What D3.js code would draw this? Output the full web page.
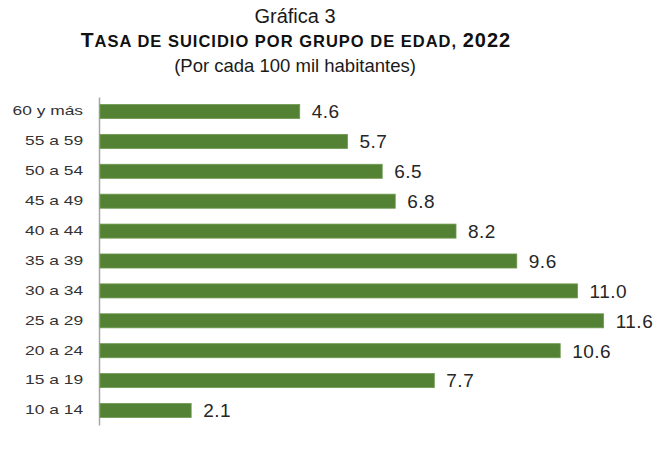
<!DOCTYPE html>
<html>
<head>
<meta charset="utf-8">
<script src="https://cdn.jsdelivr.net/npm/d3@7"></script>
<style>
  body { margin: 0; background: #fff; }
  text { font-family: "Liberation Sans", Arial, sans-serif; }
</style>
</head>
<body>
<svg id="chart" width="665" height="450"></svg>
<script>
// grupos de edad, de arriba hacia abajo
const grupos = ["60 y más", "55 a 59", "50 a 54", "45 a 49", "40 a 44", "35 a 39",
                "30 a 34", "25 a 29", "20 a 24", "15 a 19", "10 a 14"];
const tasas = [4.6, 5.7, 6.5, 6.8, 8.2, 9.6, 11.0, 11.6, 10.6, 7.7, 2.1];

const data = grupos.map((g, i) => ({ grupo: g, tasa: tasas[i] }));

const svg = d3.select("#chart");

// títulos
svg.append("text")
  .attr("x", 295).attr("y", 23)
  .attr("text-anchor", "middle")
  .attr("font-size", 20)
  .attr("fill", "#1a1a1a")
  .text("Gráfica 3");

const titulo = svg.append("text")
  .attr("x", 296).attr("y", 47)
  .attr("text-anchor", "middle")
  .attr("font-weight", "bold")
  .attr("letter-spacing", 1)
  .attr("fill", "#111");
titulo.append("tspan").attr("font-size", 21).text("T");
titulo.append("tspan").attr("font-size", 16.5).text("ASA DE SUICIDIO POR GRUPO DE EDAD, ");
titulo.append("tspan").attr("font-size", 20).text("2022");

svg.append("text")
  .attr("x", 295).attr("y", 72)
  .attr("text-anchor", "middle")
  .attr("font-size", 18.5)
  .attr("fill", "#1a1a1a")
  .text("(Por cada 100 mil habitantes)");

// escalas
const x = d3.scaleLinear().domain([0, 12]).range([100, 621]);
const y = d3.scaleBand()
  .domain(grupos)
  .range([97, 425])
  .paddingInner(0.53)
  .paddingOuter(0.25);

// eje vertical con etiquetas (texto ensanchado como en el original)
const estiro = 1.45;
const yAxis = svg.append("g")
  .attr("transform", "translate(99,0)")
  .call(d3.axisLeft(y).tickSize(0).tickPadding(11));
yAxis.select(".domain").attr("stroke", "#a6a6a6").attr("stroke-width", 1.5);
yAxis.selectAll("text")
  .attr("font-family", "Liberation Sans, Arial, sans-serif")
  .attr("font-size", 12)
  .attr("fill", "#333")
  .attr("transform", `scale(${estiro},1)`);

// barras
svg.selectAll(".bar")
  .data(data)
  .enter()
  .append("rect")
  .attr("class", "bar")
  .attr("x", x(0))
  .attr("y", d => y(d.grupo))
  .attr("width", d => x(d.tasa) - x(0))
  .attr("height", y.bandwidth())
  .style("fill", "#548235")
  .style("stroke", "#6f9a4f")
  .style("stroke-width", 0.8);

// valores
svg.selectAll(".valor")
  .data(data)
  .enter()
  .append("text")
  .attr("class", "valor")
  .attr("x", d => x(d.tasa) + 12)
  .attr("y", d => y(d.grupo) + y.bandwidth() / 2)
  .attr("dy", "0.36em")
  .attr("font-size", 19)
  .attr("letter-spacing", 0.5)
  .attr("fill", "#262626")
  .text(d => d.tasa.toFixed(1));
</script>
</body>
</html>
